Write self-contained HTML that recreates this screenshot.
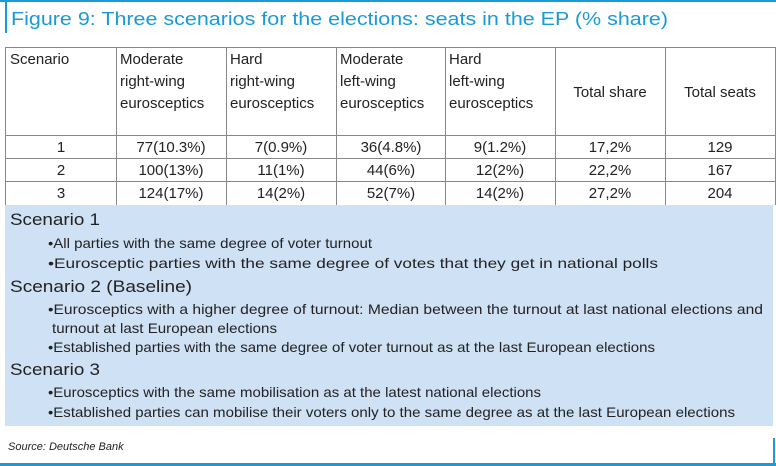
<!DOCTYPE html>
<html><head><meta charset="utf-8"><style>
html,body{margin:0;padding:0;background:#fff;}
svg{display:block;font-family:"Liberation Sans",Arial,sans-serif;}
</style></head><body>
<svg width="776" height="466" viewBox="0 0 776 466" xmlns="http://www.w3.org/2000/svg">
<rect x="0" y="0" width="776" height="2" fill="#1a9ad6"/>
<rect x="5" y="0" width="2" height="33" fill="#1a9ad6"/>
<text x="11" y="25" font-size="18" fill="#1a9ad6" textLength="657" lengthAdjust="spacingAndGlyphs">Figure 9: Three scenarios for the elections: seats in the EP (% share)</text>
<rect x="5" y="205" width="768" height="221" fill="#cfe1f4"/>
<g stroke="#888" stroke-width="1" fill="none">
<line x1="5" y1="47.5" x2="775" y2="47.5"/>
<line x1="5" y1="135.5" x2="775" y2="135.5"/>
<line x1="5" y1="158.5" x2="775" y2="158.5"/>
<line x1="5" y1="181.5" x2="775" y2="181.5"/>
<line x1="5.5" y1="47" x2="5.5" y2="205"/>
<line x1="116.5" y1="47" x2="116.5" y2="205"/>
<line x1="226.5" y1="47" x2="226.5" y2="205"/>
<line x1="336.5" y1="47" x2="336.5" y2="205"/>
<line x1="445.5" y1="47" x2="445.5" y2="205"/>
<line x1="555.5" y1="47" x2="555.5" y2="205"/>
<line x1="665.5" y1="47" x2="665.5" y2="205"/>
<line x1="775.5" y1="47" x2="775.5" y2="205"/>
</g>
<g font-size="15" fill="#222">
<text x="10" y="64">Scenario</text>
<text x="120" y="64">Moderate</text><text x="120" y="86">right-wing</text><text x="120" y="108">eurosceptics</text>
<text x="230" y="64">Hard</text><text x="230" y="86">right-wing</text><text x="230" y="108">eurosceptics</text>
<text x="340" y="64">Moderate</text><text x="340" y="86">left-wing</text><text x="340" y="108">eurosceptics</text>
<text x="449" y="64">Hard</text><text x="449" y="86">left-wing</text><text x="449" y="108">eurosceptics</text>
<text x="610" y="97" text-anchor="middle">Total share</text>
<text x="720" y="97" text-anchor="middle">Total seats</text>
</g>
<g font-size="15" fill="#222" text-anchor="middle">
<text x="61" y="152">1</text><text x="171" y="152">77(10.3%)</text><text x="281" y="152">7(0.9%)</text><text x="391" y="152">36(4.8%)</text><text x="500" y="152">9(1.2%)</text><text x="610" y="152">17,2%</text><text x="720" y="152">129</text>
<text x="61" y="175">2</text><text x="171" y="175">100(13%)</text><text x="281" y="175">11(1%)</text><text x="391" y="175">44(6%)</text><text x="500" y="175">12(2%)</text><text x="610" y="175">22,2%</text><text x="720" y="175">167</text>
<text x="61" y="198">3</text><text x="171" y="198">124(17%)</text><text x="281" y="198">14(2%)</text><text x="391" y="198">52(7%)</text><text x="500" y="198">14(2%)</text><text x="610" y="198">27,2%</text><text x="720" y="198">204</text>
</g>
<g fill="#222">
<text x="10" y="225" font-size="17" textLength="90" lengthAdjust="spacingAndGlyphs">Scenario 1</text>
<text x="48" y="248" font-size="14" textLength="324" lengthAdjust="spacingAndGlyphs">•All parties with the same degree of voter turnout</text>
<text x="48" y="268" font-size="14" textLength="610" lengthAdjust="spacingAndGlyphs">•Eurosceptic parties with the same degree of votes that they get in national polls</text>
<text x="10" y="292" font-size="17" textLength="182" lengthAdjust="spacingAndGlyphs">Scenario 2 (Baseline)</text>
<text x="48" y="314" font-size="14" textLength="715" lengthAdjust="spacingAndGlyphs">•Eurosceptics with a higher degree of turnout: Median between the turnout at last national elections and</text>
<text x="52" y="333" font-size="14" textLength="225" lengthAdjust="spacingAndGlyphs">turnout at last European elections</text>
<text x="48" y="352" font-size="14" textLength="607" lengthAdjust="spacingAndGlyphs">•Established parties with the same degree of voter turnout as at the last European elections</text>
<text x="10" y="375" font-size="17" textLength="90" lengthAdjust="spacingAndGlyphs">Scenario 3</text>
<text x="48" y="397" font-size="14" textLength="493" lengthAdjust="spacingAndGlyphs">•Eurosceptics with the same mobilisation as at the latest national elections</text>
<text x="48" y="417" font-size="14" textLength="687" lengthAdjust="spacingAndGlyphs">•Established parties can mobilise their voters only to the same degree as at the last European elections</text>
</g>
<text x="8" y="450" font-size="11" font-style="italic" fill="#222">Source: Deutsche Bank</text>
<rect x="773" y="438" width="2" height="27" fill="#1a9ad6"/>
<rect x="0" y="463" width="776" height="3" fill="#1a9ad6"/>
</svg>
</body></html>
